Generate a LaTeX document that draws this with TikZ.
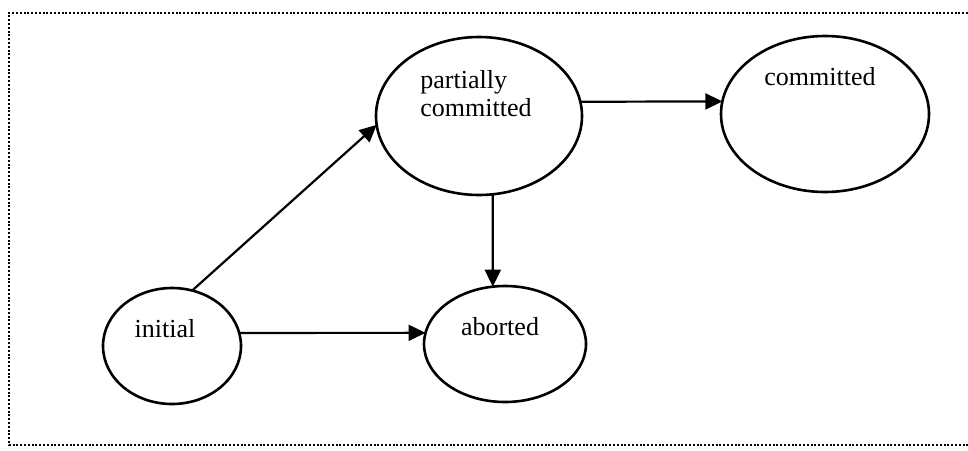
\documentclass[tikz,border=0pt]{standalone}
\usepackage{fontspec}
\setmainfont{Liberation Serif}
\usetikzlibrary{shapes.geometric,arrows.meta}
\begin{document}
\begin{tikzpicture}[x=0.5pt,y=-0.5pt,
  state/.style={ellipse,draw,line width=1.3pt,inner sep=0pt,outer sep=0pt},
  lbl/.style={font=\fontsize{13}{14}\selectfont,inner sep=0pt,align=left},
  flow/.style={line width=1.1pt,-{Triangle[length=8.5pt,width=8pt]}},
  frame/.style={line width=1.1pt,dash pattern=on 1pt off 0.9pt}]
\useasboundingbox (0,0) rectangle (968,450);
% dotted frame, open on the right
\draw[frame] (968,13) -- (9,13) -- (9,445) -- (968,445);

% states
\node[state,minimum width=69pt,minimum height=58pt]  (initial)   at (172,346) {};
\node[state,minimum width=103pt,minimum height=79pt] (partial)   at (479,116) {};
\node[state,minimum width=104pt,minimum height=78pt] (committed) at (825,114) {};
\node[state,minimum width=81pt,minimum height=58pt]  (aborted)   at (505,344) {};

% state names, set high inside each ellipse
\node[lbl] (initialtext)   at (165,329) {initial};
\node[lbl] (partialtext)   at (476,94)  {partially\\committed};
\node[lbl] (committedtext) at (820,77)  {committed};
\node[lbl] (abortedtext)   at (500,327) {aborted};

% transitions
\draw[flow] (initial.70) -- (partial.185);
\draw[flow] (initial.11) -- (aborted.172);
\draw[flow] (partial.8) -- (committed.173);
\draw[flow] (partial.-80) -- (aborted.102);
\end{tikzpicture}
\end{document}
